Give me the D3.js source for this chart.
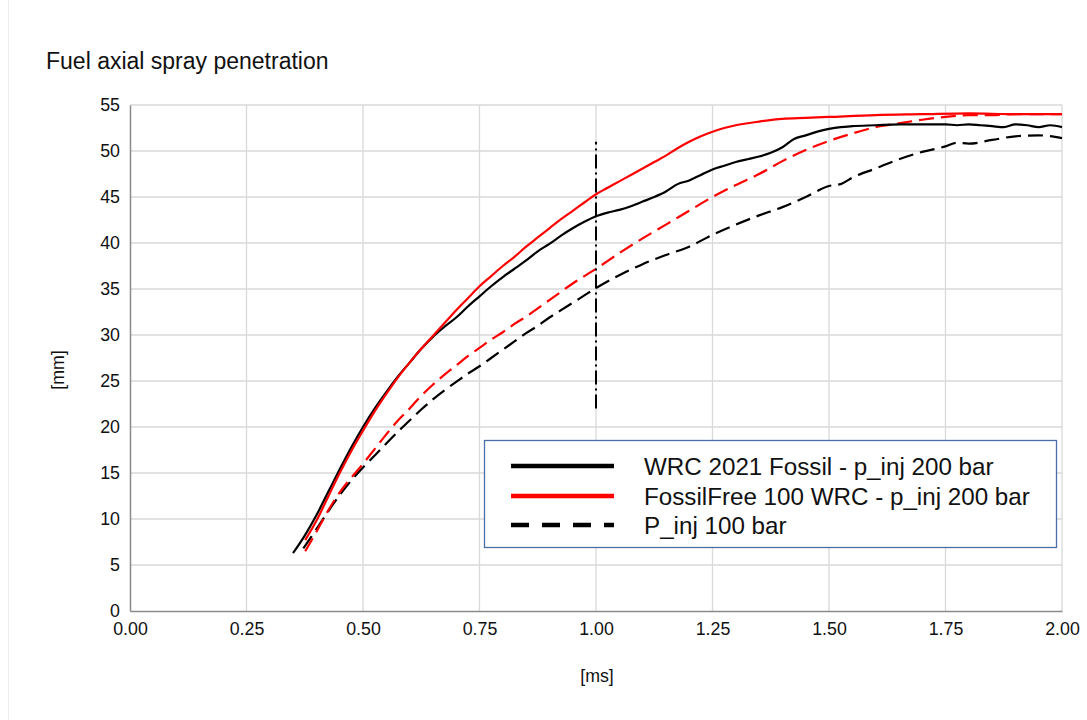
<!DOCTYPE html>
<html>
<head>
<meta charset="utf-8">
<script src="https://cdn.jsdelivr.net/npm/d3@7"></script>
<style>
  body { margin: 0; background: #fff; }
  text { font-family: "Liberation Sans", Arial, Helvetica, sans-serif; fill: #111; }
</style>
</head>
<body>
<script>
// WRC 2021 Fossil - p_inj 200 bar (black solid)
var fossil200T = [0.350, 0.375, 0.400, 0.425, 0.450, 0.475, 0.500, 0.525, 0.550, 0.575, 0.600, 0.625, 0.650, 0.675, 0.700, 0.725, 0.750, 0.775, 0.800, 0.825, 0.850, 0.875, 0.900, 0.925, 0.950, 0.975, 1.000, 1.025, 1.050, 1.075, 1.100, 1.125, 1.150, 1.175, 1.200, 1.225, 1.250, 1.275, 1.300, 1.325, 1.350, 1.375, 1.400, 1.425, 1.450, 1.475, 1.500, 1.525, 1.550, 1.600, 1.650, 1.700, 1.750, 1.775, 1.800, 1.825, 1.850, 1.875, 1.900, 1.925, 1.950, 1.975, 2.000];
var fossil200V = [6.3, 8.2, 10.4, 12.9, 15.4, 17.8, 20.0, 22.0, 23.8, 25.5, 27.0, 28.5, 29.8, 30.9, 31.9, 33.1, 34.2, 35.3, 36.3, 37.2, 38.1, 39.1, 39.9, 40.8, 41.6, 42.3, 42.9, 43.3, 43.6, 44.0, 44.5, 45.0, 45.6, 46.4, 46.8, 47.4, 48.0, 48.4, 48.8, 49.1, 49.4, 49.8, 50.4, 51.3, 51.7, 52.1, 52.4, 52.6, 52.7, 52.8, 52.9, 52.9, 52.9, 52.8, 52.9, 52.8, 52.7, 52.6, 52.9, 52.8, 52.6, 52.8, 52.6];

// FossilFree 100 WRC - p_inj 200 bar (red solid)
var free200T = [0.376, 0.400, 0.425, 0.450, 0.475, 0.500, 0.525, 0.550, 0.575, 0.600, 0.625, 0.650, 0.675, 0.700, 0.725, 0.750, 0.775, 0.800, 0.825, 0.850, 0.875, 0.900, 0.925, 0.950, 0.975, 1.000, 1.025, 1.050, 1.075, 1.100, 1.125, 1.150, 1.175, 1.200, 1.225, 1.250, 1.275, 1.300, 1.350, 1.400, 1.450, 1.500, 1.600, 1.700, 1.800, 1.900, 2.000];
var free200V = [7.7, 9.8, 12.4, 15.0, 17.4, 19.6, 21.7, 23.6, 25.4, 27.0, 28.5, 29.9, 31.3, 32.7, 34.0, 35.3, 36.4, 37.5, 38.5, 39.6, 40.6, 41.6, 42.6, 43.5, 44.4, 45.3, 46.0, 46.7, 47.4, 48.1, 48.8, 49.5, 50.3, 51.0, 51.6, 52.1, 52.5, 52.8, 53.2, 53.5, 53.6, 53.7, 53.9, 54.0, 54.1, 54.0, 54.0];

// FossilFree 100 WRC - p_inj 100 bar (red dashed)
var free100T = [0.376, 0.400, 0.425, 0.450, 0.475, 0.500, 0.525, 0.550, 0.575, 0.600, 0.625, 0.650, 0.675, 0.700, 0.725, 0.750, 0.775, 0.800, 0.825, 0.850, 0.875, 0.900, 0.925, 0.950, 0.975, 1.000, 1.050, 1.100, 1.150, 1.200, 1.250, 1.300, 1.350, 1.400, 1.450, 1.500, 1.550, 1.600, 1.650, 1.700, 1.750, 1.800, 1.850, 1.900, 1.950, 2.000];
var free100V = [6.5, 8.6, 10.9, 12.9, 14.5, 16.0, 17.6, 19.2, 20.7, 22.0, 23.4, 24.6, 25.7, 26.7, 27.7, 28.6, 29.5, 30.3, 31.2, 32.0, 32.9, 33.8, 34.7, 35.6, 36.4, 37.2, 38.9, 40.5, 42.0, 43.5, 45.0, 46.3, 47.5, 48.9, 50.1, 51.1, 51.9, 52.6, 53.0, 53.4, 53.7, 53.9, 53.9, 54.0, 54.0, 54.0];

// P_inj 100 bar (black dashed)
var fossil100T = [0.372, 0.400, 0.425, 0.450, 0.475, 0.500, 0.525, 0.550, 0.575, 0.600, 0.625, 0.650, 0.675, 0.700, 0.725, 0.750, 0.775, 0.800, 0.825, 0.850, 0.875, 0.900, 0.925, 0.950, 0.975, 1.000, 1.050, 1.100, 1.150, 1.200, 1.250, 1.300, 1.350, 1.400, 1.450, 1.500, 1.525, 1.550, 1.600, 1.650, 1.700, 1.750, 1.775, 1.800, 1.850, 1.900, 1.950, 2.000];
var fossil100V = [6.8, 8.9, 10.8, 12.6, 14.2, 15.6, 16.9, 18.2, 19.5, 20.7, 21.9, 23.0, 24.0, 24.9, 25.8, 26.6, 27.5, 28.4, 29.3, 30.2, 31.0, 31.9, 32.7, 33.5, 34.3, 35.1, 36.5, 37.7, 38.7, 39.6, 40.9, 42.0, 43.0, 43.9, 45.0, 46.2, 46.4, 47.1, 48.1, 49.1, 49.9, 50.5, 50.9, 50.8, 51.2, 51.6, 51.7, 51.4];

// vertical marker at 1.00 ms
var markerT = [1.0, 1.0];
var markerV = [22, 51];

var xTicks = [0, 0.25, 0.5, 0.75, 1.0, 1.25, 1.5, 1.75, 2.0];
var yTicks = [0, 5, 10, 15, 20, 25, 30, 35, 40, 45, 50, 55];

var legendLabels = ["WRC 2021 Fossil - p_inj 200 bar", "FossilFree 100 WRC - p_inj 200 bar", "P_inj 100 bar"];

var w = 1087, h = 720;
var svg = d3.select("body").append("svg").attr("width", w).attr("height", h);

// faint frame line at the left edge
svg.append("line").attr("x1", 8.5).attr("x2", 8.5).attr("y1", 0).attr("y2", h)
  .attr("stroke", "#eeeeee").attr("stroke-width", 1);

var x = d3.scaleLinear().domain([0, 2]).range([130, 1062]);
var y = d3.scaleLinear().domain([0, 55]).range([611, 105]);

// grid
svg.append("g").selectAll("line").data(xTicks.slice(1)).enter().append("line")
  .attr("x1", d => x(d)).attr("x2", d => x(d)).attr("y1", y(0)).attr("y2", y(55))
  .attr("stroke", "#d9d9d9").attr("stroke-width", 1.3);
svg.append("g").selectAll("line").data(yTicks.slice(1)).enter().append("line")
  .attr("x1", x(0)).attr("x2", x(2)).attr("y1", d => y(d)).attr("y2", d => y(d))
  .attr("stroke", "#d9d9d9").attr("stroke-width", 1.3);

// axes
var xAxis = svg.append("g").attr("transform", "translate(0," + y(0) + ")")
  .call(d3.axisBottom(x).tickValues(xTicks).tickFormat(d3.format(".2f")).tickSize(0).tickPadding(11));
var yAxis = svg.append("g").attr("transform", "translate(" + x(0) + ",0)")
  .call(d3.axisLeft(y).tickValues(yTicks).tickSize(0).tickPadding(10));
[xAxis, yAxis].forEach(function (a) {
  a.select(".domain").attr("stroke", "#8a8a8a").attr("stroke-width", 1.5);
  a.selectAll("text").style("font-size", "17.8px").attr("fill", "#111")
    .style("font-family", "'Liberation Sans', Arial, sans-serif");
});

// titles
svg.append("text").attr("x", 46).attr("y", 69).style("font-size", "23px").text("Fuel axial spray penetration");
svg.append("text").attr("transform", "translate(64,370) rotate(-90)").attr("text-anchor", "middle")
  .style("font-size", "17.8px").text("[mm]");
svg.append("text").attr("x", 597).attr("y", 682).attr("text-anchor", "middle")
  .style("font-size", "17.8px").text("[ms]");

// curves
var line = d3.line().x(d => x(d[0])).y(d => y(d[1])).curve(d3.curveMonotoneX);
var series = [
  { t: fossil100T, v: fossil100V, color: "#000", dash: "15,7" },
  { t: free100T, v: free100V, color: "#ff0000", dash: "15,7" },
  { t: fossil200T, v: fossil200V, color: "#000", dash: null },
  { t: free200T, v: free200V, color: "#ff0000", dash: null }
];
series.forEach(function (s) {
  svg.append("path").datum(d3.zip(s.t, s.v)).attr("d", line)
    .attr("fill", "none").attr("stroke", s.color).attr("stroke-width", 2.2)
    .attr("stroke-dasharray", s.dash);
});

// 1.00 ms marker (dash-dot)
svg.append("path").datum(d3.zip(markerT, markerV)).attr("d", d3.line().x(d => x(d[0])).y(d => y(d[1])))
  .attr("fill", "none").attr("stroke", "#000").attr("stroke-width", 2)
  .attr("stroke-dasharray", "14,4,2,4");

// legend
var lg = svg.append("g");
lg.append("rect").attr("x", 484.5).attr("y", 440.5).attr("width", 572).attr("height", 107)
  .attr("fill", "#fff").attr("stroke", "#4a6ea8").attr("stroke-width", 1.3);
var legendStyle = [
  { color: "#000", dash: null },
  { color: "#ff0000", dash: null },
  { color: "#000", dash: "18,13" }
];
var legendY = [466, 496, 525];
legendLabels.forEach(function (label, i) {
  lg.append("line").attr("x1", 511).attr("x2", 614).attr("y1", legendY[i]).attr("y2", legendY[i])
    .attr("stroke", legendStyle[i].color).attr("stroke-width", 4.5)
    .attr("stroke-dasharray", legendStyle[i].dash);
  lg.append("text").attr("x", 644).attr("y", legendY[i]).attr("dy", "0.36em")
    .style("font-size", "24.2px").text(label);
});
</script>
</body>
</html>
